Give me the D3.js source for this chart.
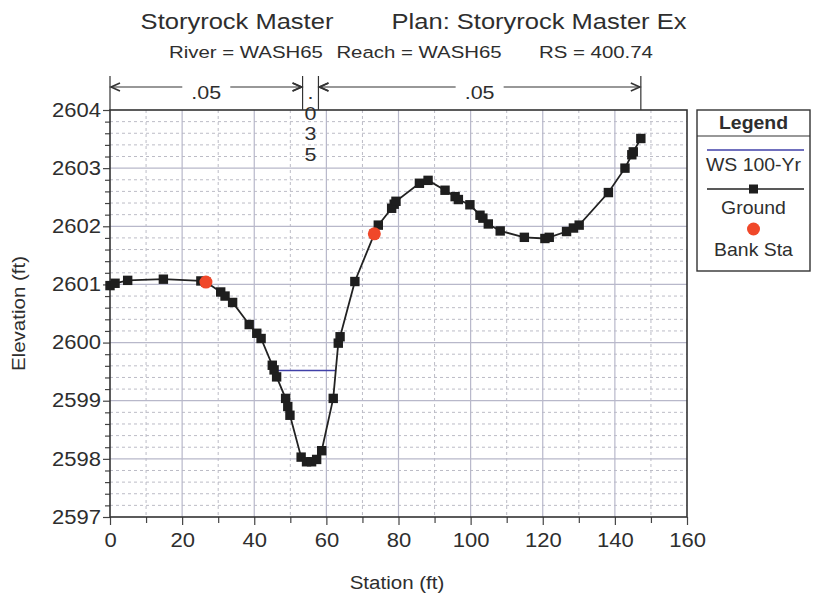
<!DOCTYPE html>
<html>
<head>
<meta charset="utf-8">
<script src="https://cdn.jsdelivr.net/npm/d3@7"></script>
<style>
  html, body { margin: 0; padding: 0; background: #fff; }
  svg { display: block; font-family: "Liberation Sans", Arial, sans-serif; }
</style>
</head>
<body>
<svg id="chart" width="825" height="595"></svg>
<script>
// Cross section ground survey (station ft, elevation ft)
const groundStation = [0, 1.4, 4.9, 14.8, 25.2, 26.6, 30.7, 31.9, 34.0, 38.6, 40.7, 41.9,
  45.0, 45.5, 46.2, 48.7, 49.3, 49.9, 53.0, 54.5, 55.9, 57.3, 58.7, 61.9, 63.3, 63.8,
  67.9, 73.3, 74.4, 78.1, 78.8, 79.3, 85.8, 88.2, 92.9, 95.7, 96.6, 99.8, 102.6, 103.4,
  104.9, 108.2, 114.9, 120.6, 121.8, 126.6, 128.5, 130.1, 138.2, 142.8, 144.7, 145.1, 147.2];
const groundElev = [2600.98, 2601.02, 2601.07, 2601.09, 2601.06, 2601.04, 2600.87, 2600.80,
  2600.69, 2600.31, 2600.16, 2600.07, 2599.61, 2599.53, 2599.41, 2599.04, 2598.90, 2598.75,
  2598.03, 2597.95, 2597.95, 2597.99, 2598.14, 2599.04, 2599.99, 2600.10, 2601.05, 2601.87,
  2602.02, 2602.31, 2602.38, 2602.43, 2602.74, 2602.79, 2602.62, 2602.51, 2602.46, 2602.37,
  2602.19, 2602.14, 2602.04, 2601.92, 2601.81, 2601.79, 2601.81, 2601.91, 2601.97, 2602.02,
  2602.58, 2603.00, 2603.23, 2603.28, 2603.51];

// Bank stations
const bankStation = [26.6, 73.3];
const bankElev = [2601.04, 2601.87];

// Water surface, 100-yr profile
const wsStation = [45.5, 62.6];
const wsElev = [2599.52, 2599.52];

// Manning's n breaks along the section
const nBreaks = [0, 53.4, 57.8, 147.2];
const nValues = [".05", ".035", ".05"];

// Axis ticks
const xTicks = [0, 20, 40, 60, 80, 100, 120, 140, 160];
const yTicks = [2597, 2598, 2599, 2600, 2601, 2602, 2603, 2604];

const svg = d3.select("#chart");
const L = 110, R = 687, T = 110, B = 517;
const x = d3.scaleLinear().domain([0, 160]).range([L, R]);
const y = d3.scaleLinear().domain([2597, 2604]).range([B, T]);

const ink = "#2e2e2e";
const SX = 1.13; // horizontal widening of the lettering

// Text placed at (px, py), widened horizontally around its anchor
function label(g, px, py, str, size, opts = {}) {
  const t = g.append("text")
    .attr("transform", `translate(${px},${py}) ${opts.rotate ? `rotate(${opts.rotate})` : ""} scale(${opts.sx || SX},1)`)
    .attr("text-anchor", opts.anchor || "middle")
    .attr("font-size", size).attr("fill", ink)
    .text(str);
  if (opts.bold) t.attr("font-weight", "bold");
  return t;
}

// Titles
label(svg, 237, 29, "Storyrock Master", 22, { sx: 1.16 });
label(svg, 539, 29, "Plan: Storyrock Master Ex", 22, { sx: 1.16 });
label(svg, 246, 58, "River = WASH65", 17, { sx: 1.2 });
label(svg, 419, 58, "Reach = WASH65", 17, { sx: 1.2 });
label(svg, 596, 58, "RS = 400.74", 17, { sx: 1.2 });

// Grid
const minorX = d3.range(10, 160, 20);
const minorY = d3.range(2597, 2604.001, 0.2).filter(v => Math.abs(v - Math.round(v)) > 0.01);
const grid = svg.append("g");
grid.selectAll(".gyMinor").data(minorY).join("line")
  .attr("x1", L).attr("x2", R).attr("y1", d => y(d)).attr("y2", d => y(d))
  .attr("stroke", "#bcbcc6").attr("stroke-width", 1).attr("stroke-dasharray", "3,3");
grid.selectAll(".gxMinor").data(minorX).join("line")
  .attr("y1", T).attr("y2", B).attr("x1", d => x(d)).attr("x2", d => x(d))
  .attr("stroke", "#bcbcc6").attr("stroke-width", 1).attr("stroke-dasharray", "3,3");
grid.selectAll(".gyMajor").data(yTicks.slice(1, -1)).join("line")
  .attr("x1", L).attr("x2", R).attr("y1", d => y(d)).attr("y2", d => y(d))
  .attr("stroke", "#b8b8ca").attr("stroke-width", 1.2);
grid.selectAll(".gxMajor").data(xTicks.slice(1, -1)).join("line")
  .attr("y1", T).attr("y2", B).attr("x1", d => x(d)).attr("x2", d => x(d))
  .attr("stroke", "#b8b8ca").attr("stroke-width", 1.2);

// Axes
function styleAxis(g) {
  g.select(".domain").remove();
  g.selectAll("line").attr("stroke", "#444").attr("stroke-width", 1.2);
  g.selectAll("text").attr("fill", ink).attr("font-size", 19.5)
    .attr("font-family", "'Liberation Sans', Arial, sans-serif");
}
svg.append("g").attr("transform", `translate(${L},0)`)
  .call(d3.axisLeft(y).tickValues(minorY).tickSize(5).tickFormat("")).call(styleAxis);
svg.append("g").attr("transform", `translate(${L},0)`)
  .call(d3.axisLeft(y).tickValues(yTicks).tickSize(7).tickPadding(1).tickFormat(d3.format("d")))
  .call(styleAxis)
  .call(g => g.selectAll("text").attr("transform", `scale(${SX},1)`));
svg.append("g").attr("transform", `translate(0,${B})`)
  .call(d3.axisBottom(x).tickValues(minorX).tickSize(6).tickFormat("")).call(styleAxis);
svg.append("g").attr("transform", `translate(0,${B})`)
  .call(d3.axisBottom(x).tickValues(xTicks).tickSize(8).tickPadding(8)).call(styleAxis)
  .call(g => g.selectAll("text").attr("transform", `scale(${SX},1)`));

// Plot frame
svg.append("rect").attr("x", L).attr("y", T).attr("width", R - L).attr("height", B - T)
  .attr("fill", "none").attr("stroke", "#333").attr("stroke-width", 1.6);

// Axis titles
label(svg, 397, 589, "Station (ft)", 19, { sx: 1.08 });
label(svg, 25, (T + B) / 2, "Elevation (ft)", 19, { rotate: -90, sx: 1.08 });

// Manning's n bracket above the plot
const nb = svg.append("g").attr("stroke", "#333").attr("stroke-width", 1.2).attr("fill", "none");
const arrowY = 87;
nBreaks.forEach(s => nb.append("line").attr("x1", x(s)).attr("x2", x(s))
  .attr("y1", 76).attr("y2", T));
function arrowHead(px, dir) {
  nb.append("path").attr("d",
    `M${px + dir * 9},${arrowY - 4} L${px},${arrowY} L${px + dir * 9},${arrowY + 4}`)
    .attr("stroke-width", 1.6);
}
[0, 2].forEach(i => {
  const a = x(nBreaks[i]), b = x(nBreaks[i + 1]), c = (a + b) / 2;
  nb.append("line").attr("x1", a + 1).attr("x2", c - 24).attr("y1", arrowY).attr("y2", arrowY);
  nb.append("line").attr("x1", c + 24).attr("x2", b - 1).attr("y1", arrowY).attr("y2", arrowY);
  arrowHead(a + 1, 1);
  arrowHead(b - 1, -1);
  label(svg, c, 99, nValues[i], 19);
});
{
  const a = x(nBreaks[1]), b = x(nBreaks[2]);
  arrowHead(a - 1, -1);
  arrowHead(b + 1, 1);
  const cx = (a + b) / 2;
  nValues[1].split("").forEach((ch, k) => {
    label(svg, cx, 99 + k * 20.5, ch, 19);
  });
}

// Water surface
svg.append("path")
  .datum(wsStation.map((s, i) => [s, wsElev[i]]))
  .attr("d", d3.line().x(d => x(d[0])).y(d => y(d[1])))
  .attr("fill", "none").attr("stroke", "#4040a8").attr("stroke-width", 1.6);

// Ground line and survey points
const ground = groundStation.map((s, i) => [s, groundElev[i]]);
svg.append("path").datum(ground)
  .attr("d", d3.line().x(d => x(d[0])).y(d => y(d[1])))
  .attr("fill", "none").attr("stroke", "#222").attr("stroke-width", 1.8);
svg.append("g").selectAll("rect").data(ground).join("rect")
  .attr("x", d => x(d[0]) - 4.7).attr("y", d => y(d[1]) - 4.7)
  .attr("width", 9.4).attr("height", 9.4).attr("fill", "#1e1e1e");

// Bank stations
svg.append("g").selectAll("circle").data(bankStation.map((s, i) => [s, bankElev[i]])).join("circle")
  .attr("cx", d => x(d[0])).attr("cy", d => y(d[1])).attr("r", 6.5).attr("fill", "#f0482a");

// Legend
const lg = svg.append("g");
const lx = 697, lw = 113, ly = 110, lh = 161, lc = lx + lw / 2;
lg.append("rect").attr("x", lx).attr("y", ly).attr("width", lw).attr("height", lh)
  .attr("fill", "#fff").attr("stroke", "#333").attr("stroke-width", 1.4);
lg.append("line").attr("x1", lx).attr("x2", lx + lw).attr("y1", 136).attr("y2", 136)
  .attr("stroke", "#333").attr("stroke-width", 1.2);
label(lg, lc, 129, "Legend", 18, { bold: true, sx: 1.08 });
lg.append("line").attr("x1", lx + 10).attr("x2", lx + lw - 6).attr("y1", 150).attr("y2", 150)
  .attr("stroke", "#4040a8").attr("stroke-width", 1.6);
label(lg, lc, 171, "WS 100-Yr", 18, { sx: 1.08 });
lg.append("line").attr("x1", lx + 10).attr("x2", lx + lw - 6).attr("y1", 189).attr("y2", 189)
  .attr("stroke", "#222").attr("stroke-width", 1.6);
lg.append("rect").attr("x", lc - 4.5).attr("y", 184.5).attr("width", 9).attr("height", 9)
  .attr("fill", "#1e1e1e");
label(lg, lc, 214, "Ground", 18, { sx: 1.08 });
lg.append("circle").attr("cx", lc).attr("cy", 229).attr("r", 6.5).attr("fill", "#f0482a");
label(lg, lc, 256, "Bank Sta", 18, { sx: 1.08 });
</script>
</body>
</html>
